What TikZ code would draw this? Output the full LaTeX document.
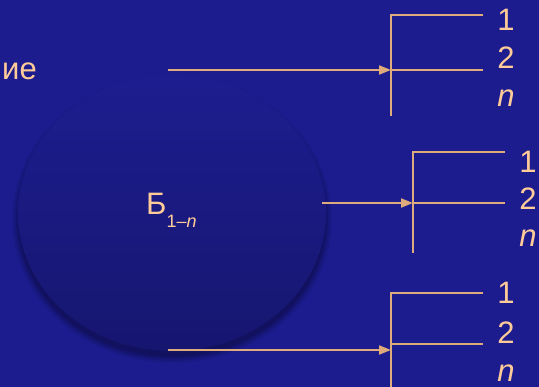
\documentclass[tikz,border=0pt]{standalone}
\usepackage{fontspec}
\setmainfont{Liberation Sans}
\usetikzlibrary{arrows.meta}
\definecolor{bgblue}{RGB}{28,28,142}
\definecolor{discblue}{RGB}{29,29,144}
\definecolor{discdark}{RGB}{22,22,112}
\definecolor{linetan}{RGB}{222,172,124}
\definecolor{peach}{RGB}{255,204,153}

\tikzset{
  branch/.style={draw=linetan, line width=1.8pt},
  feed/.style={branch, ->},
  numlabel/.style={text=peach, font=\fontsize{31}{31}\selectfont, inner sep=0pt},
}

\begin{document}
\begin{tikzpicture}[x=1pt, y=-1pt, >={Triangle[length=12pt,width=9pt]}]
    \fill[bgblue] (0,0) rectangle (539,387);
    \useasboundingbox (0,0) rectangle (539,387);
    \clip (0,0) rectangle (539,387);

    % shadow under the disc
    \foreach \s/\o in {6/0.05,4/0.08,2/0.1,0/0.12}
        \fill[black, opacity=\o] (172,219) ellipse ({154+\s} and {138+\s});
    \shade[top color=discblue, bottom color=discdark] (172,213) ellipse (154 and 138);

    \node[numlabel, anchor=base east] (word) at (37,80) {ие};
    \node[numlabel, anchor=base west] (disc) at (146,215)
        {Б\raisebox{-13pt}{\fontsize{18}{18}\selectfont 1–\textit{n}}};

    \foreach \g/\vx/\ty/\my/\by/\ex/\ax/\ay/\lx/\la/\lb/\lc in
        {1/391/15/70/116/483/168/70/506/20/58/98,
         2/413/152/203/253/505/322/203/528/162/199/238,
         3/391/293/344/395/483/168/350/506/293/333/373}{
        \coordinate (top\g) at (\vx,\ty);
        \coordinate (bot\g) at (\vx,\by);
        \coordinate (mid\g) at (\vx,\my);
        \coordinate (in\g) at (\vx,\ay);
        \coordinate (src\g) at (\ax,\ay);
        \coordinate (out\g a) at (\ex,\ty);
        \coordinate (out\g b) at (\ex,\my);
        \draw[branch] (out\g a) -- (top\g) -- (bot\g);
        \draw[branch] (mid\g) -- (out\g b);
        \draw[feed] (src\g) -- (in\g);
        \node[numlabel] (one\g) at (\lx,\la) {1};
        \node[numlabel] (two\g) at (\lx,\lb) {2};
        \node[numlabel] (n\g) at (\lx,\lc) {\textit{n}};
    }
\end{tikzpicture}
\end{document}
